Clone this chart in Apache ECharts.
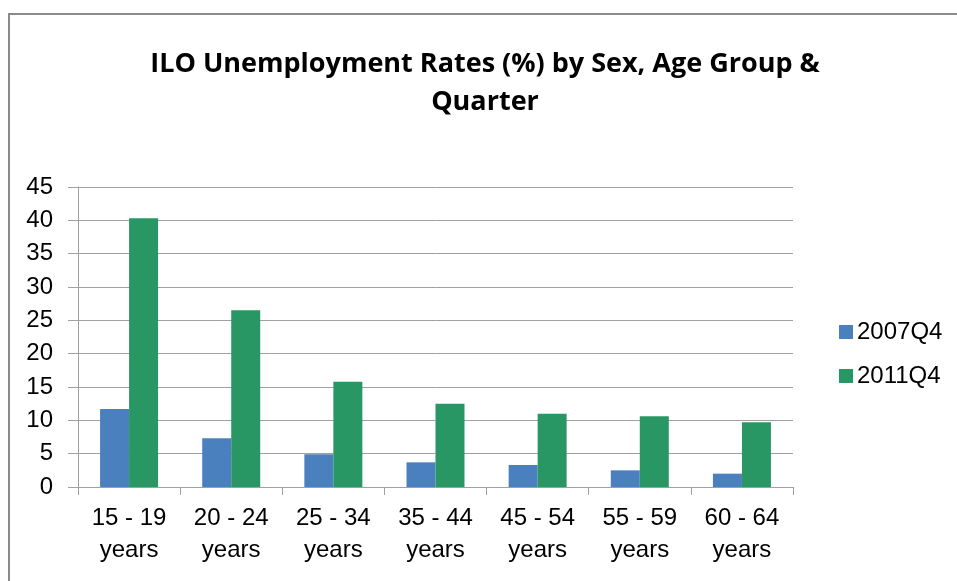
<!DOCTYPE html>
<html>
<head>
<meta charset="utf-8">
<script src="https://cdn.jsdelivr.net/npm/echarts@6/dist/echarts.min.js"></script>
<style>
html,body{margin:0;padding:0;background:#fff;}
#chart{width:957px;height:581px;}
</style>
</head>
<body>
<div id="chart"></div>
<script>
const categories = ['15 - 19\nyears','20 - 24\nyears','25 - 34\nyears','35 - 44\nyears','45 - 54\nyears','55 - 59\nyears','60 - 64\nyears'];
const series2007Q4 = [11.7, 7.3, 4.9, 3.7, 3.3, 2.5, 2.0];
const series2011Q4 = [40.3, 26.5, 15.8, 12.5, 11.0, 10.6, 9.7];
const seriesNames = ['2007Q4', '2011Q4'];
const titleText = 'ILO Unemployment Rates (%) by Sex, Age Group &\nQuarter';

const chart = echarts.init(document.getElementById('chart'));
chart.setOption({
  backgroundColor: '#fff',
  animation: false,
  graphic: [{
    type: 'rect', shape: {x: 9, y: 14, width: 1000, height: 1000},
    style: {fill: 'none', stroke: '#8a8a8a', lineWidth: 2}, silent: true
  }],
  title: {
    text: titleText,
    left: 480, top: 40, textAlign: 'center',
    textStyle: {fontFamily: 'Open Sans', fontWeight: 'bold', fontSize: 27, lineHeight: 38, color: '#000'}
  },
  legend: {
    orient: 'vertical', left: 834, top: 315,
    itemWidth: 14, itemHeight: 14, itemGap: 20,
    icon: 'rect',
    textStyle: {fontFamily: 'Liberation Sans', fontSize: 24, color: '#000', padding: [0,0,0,-1]},
    data: seriesNames
  },
  grid: {left: 78, right: 164, top: 187, bottom: 94},
  xAxis: {
    type: 'category', data: categories,
    axisLine: {lineStyle: {color: '#a0a0a0', width: 1}},
    axisTick: {show: true, length: 8, lineStyle: {color: '#a0a0a0'}},
    axisLabel: {fontFamily: 'Liberation Sans', fontSize: 24, color: '#000', lineHeight: 32, margin: 15, interval: 0}
  },
  yAxis: {
    type: 'value', min: 0, max: 45, interval: 5,
    axisLine: {show: true, lineStyle: {color: '#a0a0a0', width: 1}},
    axisTick: {show: true, length: 10, lineStyle: {color: '#a0a0a0'}},
    splitLine: {lineStyle: {color: '#a0a0a0', width: 1}},
    axisLabel: {fontFamily: 'Liberation Sans', fontSize: 24, color: '#000', margin: 25}
  },
  series: [
    {name: seriesNames[0], type: 'bar', data: series2007Q4, barWidth: 29, barGap: '0%',
     itemStyle: {color: '#4a80bd'}},
    {name: seriesNames[1], type: 'bar', data: series2011Q4, barWidth: 29, barGap: '0%',
     itemStyle: {color: '#289763'}}
  ]
});
</script>
</body>
</html>
